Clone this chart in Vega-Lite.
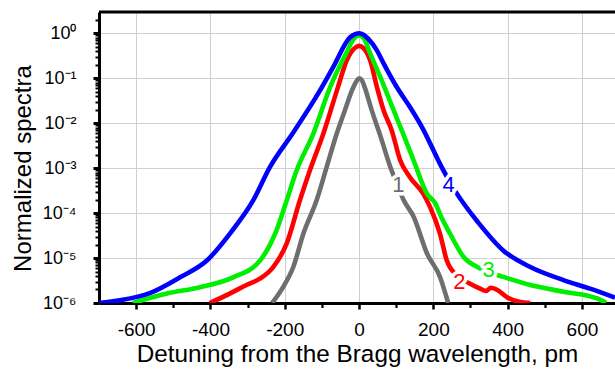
{
  "$schema": "https://vega.github.io/schema/vega-lite/v6.json",
  "width": 516,
  "height": 291,
  "autosize": {"type": "none"},
  "padding": {"left": 99, "top": 12, "right": 0, "bottom": 66},
  "background": "white",
  "config": {"view": {"stroke": null}, "font": "Liberation Sans"},
  "datasets": {
    "curves": [
      {"s":"1","x":-234,"y":1.0e-6},{"s":"1","x":-204,"y":2.29e-6},{"s":"1","x":-177,"y":6.31e-6},{"s":"1","x":-150,"y":3.47e-5},{"s":"1","x":-114,"y":1.95e-4},{"s":"1","x":-87,"y":1.07e-3},{"s":"1","x":-60,"y":5.89e-3},{"s":"1","x":-38,"y":0.0195},{"s":"1","x":-19,"y":0.0537},{"s":"1","x":-6,"y":0.0891},{"s":"1","x":0,"y":0.1},{"s":"1","x":8,"y":0.0891},{"s":"1","x":16,"y":0.0603},{"s":"1","x":34,"y":0.0195},{"s":"1","x":57,"y":5.37e-3},{"s":"1","x":84,"y":1.07e-3},{"s":"1","x":102,"y":4.47e-4},{"s":"1","x":120,"y":1.95e-4},{"s":"1","x":147,"y":8.32e-5},{"s":"1","x":183,"y":1.26e-5},{"s":"1","x":218,"y":3.80e-6},{"s":"1","x":240,"y":1.0e-6},
      {"s":"2","x":-402,"y":1.0e-6},{"s":"2","x":-348,"y":1.62e-6},{"s":"2","x":-303,"y":2.51e-6},{"s":"2","x":-267,"y":3.47e-6},{"s":"2","x":-231,"y":6.31e-6},{"s":"2","x":-195,"y":2.09e-5},{"s":"2","x":-159,"y":1.95e-4},{"s":"2","x":-132,"y":9.12e-4},{"s":"2","x":-96,"y":5.89e-3},{"s":"2","x":-58,"y":0.0589},{"s":"2","x":-33,"y":0.251},{"s":"2","x":-12,"y":0.468},{"s":"2","x":0,"y":0.525},{"s":"2","x":12,"y":0.468},{"s":"2","x":30,"y":0.251},{"s":"2","x":48,"y":0.0646},{"s":"2","x":66,"y":0.0195},{"s":"2","x":88,"y":6.92e-3},{"s":"2","x":111,"y":1.48e-3},{"s":"2","x":137,"y":6.31e-4},{"s":"2","x":173,"y":2.69e-4},{"s":"2","x":191,"y":1.38e-4},{"s":"2","x":218,"y":3.47e-5},{"s":"2","x":236,"y":8.91e-6},{"s":"2","x":265,"y":3.98e-6},{"s":"2","x":299,"y":2.69e-6},{"s":"2","x":326,"y":2.09e-6},{"s":"2","x":342,"y":1.86e-6},{"s":"2","x":355,"y":2.19e-6},{"s":"2","x":370,"y":2.0e-6},{"s":"2","x":398,"y":1.35e-6},{"s":"2","x":434,"y":1.05e-6},{"s":"2","x":461,"y":1.0e-6},
      {"s":"3","x":-609,"y":1.0e-6},{"s":"3","x":-517,"y":1.62e-6},{"s":"3","x":-428,"y":2.24e-6},{"s":"3","x":-339,"y":3.72e-6},{"s":"3","x":-266,"y":8.91e-6},{"s":"3","x":-222,"y":4.17e-5},{"s":"3","x":-198,"y":1.58e-4},{"s":"3","x":-168,"y":8.91e-4},{"s":"3","x":-123,"y":5.89e-3},{"s":"3","x":-78,"y":0.0631},{"s":"3","x":-35,"y":0.355},{"s":"3","x":-12,"y":0.794},{"s":"3","x":0,"y":0.891},{"s":"3","x":12,"y":0.794},{"s":"3","x":30,"y":0.355},{"s":"3","x":57,"y":0.107},{"s":"3","x":93,"y":0.0195},{"s":"3","x":115,"y":6.92e-3},{"s":"3","x":147,"y":1.48e-3},{"s":"3","x":183,"y":2.69e-4},{"s":"3","x":205,"y":1.66e-4},{"s":"3","x":222,"y":7.94e-5},{"s":"3","x":245,"y":3.47e-5},{"s":"3","x":281,"y":1.07e-5},{"s":"3","x":326,"y":5.89e-6},{"s":"3","x":389,"y":3.80e-6},{"s":"3","x":461,"y":2.51e-6},{"s":"3","x":551,"y":1.78e-6},{"s":"3","x":641,"y":1.26e-6},{"s":"3","x":665,"y":1.0e-6},
      {"s":"4","x":-700,"y":1.0e-6},{"s":"4","x":-643,"y":1.15e-6},{"s":"4","x":-563,"y":1.66e-6},{"s":"4","x":-482,"y":3.72e-6},{"s":"4","x":-409,"y":8.91e-6},{"s":"4","x":-347,"y":3.55e-5},{"s":"4","x":-285,"y":1.91e-4},{"s":"4","x":-240,"y":1.05e-3},{"s":"4","x":-178,"y":6.03e-3},{"s":"4","x":-105,"y":0.0537},{"s":"4","x":-70,"y":0.174},{"s":"4","x":-24,"y":0.813},{"s":"4","x":-10,"y":0.955},{"s":"4","x":0,"y":1.0},{"s":"4","x":12,"y":0.933},{"s":"4","x":25,"y":0.75},{"s":"4","x":48,"y":0.417},{"s":"4","x":66,"y":0.214},{"s":"4","x":101,"y":0.0646},{"s":"4","x":137,"y":0.0229},{"s":"4","x":169,"y":8.32e-3},{"s":"4","x":222,"y":1.07e-3},{"s":"4","x":263,"y":2.75e-4},{"s":"4","x":320,"y":6.31e-5},{"s":"4","x":388,"y":1.48e-5},{"s":"4","x":461,"y":6.31e-6},{"s":"4","x":550,"y":3.24e-6},{"s":"4","x":622,"y":2.09e-6},{"s":"4","x":689,"y":1.32e-6}
    ],
    "labels": [
      {"s":"1","x":106,"y":4.2e-4},
      {"s":"4","x":241,"y":4.2e-4},
      {"s":"2","x":270,"y":2.95e-6},
      {"s":"3","x":349,"y":5.4e-6}
    ]
  },
  "layer": [
    {
      "data": {"name": "curves"},
      "mark": {"type": "line", "strokeWidth": 4.6, "clip": true, "strokeJoin": "round", "interpolate": "monotone"},
      "encoding": {
        "x": {
          "field": "x", "type": "quantitative",
          "scale": {"domain": [-700, 689], "nice": false, "zero": false},
          "axis": {
            "orient": "bottom",
            "values": [-600, -500, -400, -300, -200, -100, 0, 100, 200, 300, 400, 500, 600],
            "labelExpr": "datum.value % 200 == 0 ? (datum.value < 0 ? '-' : '') + abs(datum.value) : ''",
            "grid": true, "gridColor": "#cfcfcf", "gridWidth": 1,
            "gridOpacity": {"condition": {"test": "datum.value % 200 == 0", "value": 1}, "value": 0},
            "domainColor": "black", "domainWidth": 3,
            "tickColor": "black",
            "tickWidth": {"condition": {"test": "datum.value % 200 == 0", "value": 2.5}, "value": 2.2},
            "tickSize": {"condition": {"test": "datum.value % 200 == 0", "value": 6}, "value": 4.5},
            "labelFontSize": 19, "labelColor": "black", "labelPadding": 11,
            "labelFlush": false, "labelOverlap": false,
            "title": "Detuning from the Bragg wavelength, pm",
            "titleFontSize": 24.3, "titleFontWeight": "normal", "titleColor": "black", "titlePadding": 3
          }
        },
        "y": {
          "field": "y", "type": "quantitative",
          "scale": {"type": "log", "domain": [1e-6, 2.98], "nice": false},
          "axis": {
            "orient": "left",
            "values": [1e-6,2e-6,3e-6,4e-6,5e-6,6e-6,7e-6,8e-6,9e-6,1e-5,2e-5,3e-5,4e-5,5e-5,6e-5,7e-5,8e-5,9e-5,1e-4,2e-4,3e-4,4e-4,5e-4,6e-4,7e-4,8e-4,9e-4,1e-3,2e-3,3e-3,4e-3,5e-3,6e-3,7e-3,8e-3,9e-3,0.01,0.02,0.03,0.04,0.05,0.06,0.07,0.08,0.09,0.1,0.2,0.3,0.4,0.5,0.6,0.7,0.8,0.9,1,2],
            "labelExpr": "abs(log(datum.value)/LN10 - round(log(datum.value)/LN10)) < 0.001 ? ['10⁰','10⁻¹','10⁻²','10⁻³','10⁻⁴','10⁻⁵','10⁻⁶'][-round(log(datum.value)/LN10)] : ''",
            "grid": true, "gridColor": "#cfcfcf", "gridWidth": 1,
            "gridOpacity": {"condition": {"test": "abs(log(datum.value)/LN10 - round(log(datum.value)/LN10)) < 0.001 && datum.value < 1.5", "value": 1}, "value": 0},
            "domainColor": "black", "domainWidth": 3,
            "tickColor": "black",
            "tickWidth": {"condition": {"test": "abs(log(datum.value)/LN10 - round(log(datum.value)/LN10)) < 0.001", "value": 3}, "value": 2},
            "tickSize": {"condition": {"test": "abs(log(datum.value)/LN10 - round(log(datum.value)/LN10)) < 0.001", "value": 6}, "value": 4},
            "labelFontSize": 18, "labelColor": "black", "labelPadding": 17,
            "labelFlush": false, "labelOverlap": false,
            "title": "Normalized spectra",
            "titleFontSize": 24, "titleFontWeight": "normal", "titleColor": "black", "titlePadding": 7,
            "titleY": 156
          }
        },
        "color": {
          "field": "s", "type": "nominal",
          "scale": {"domain": ["1", "2", "3", "4"], "range": ["#6e6e6e", "#ff0000", "#00ee00", "#0000ff"]},
          "legend": null
        }
      }
    },
    {
      "data": {"values": [{}]},
      "mark": {"type": "rule", "color": "black", "strokeWidth": 3},
      "encoding": {"y": {"datum": 2.98, "type": "quantitative"}}
    },
    {
      "data": {"name": "labels"},
      "mark": {"type": "text", "fontSize": 22, "fill": "white", "stroke": "white", "strokeWidth": 7, "strokeJoin": "round", "align": "center", "baseline": "middle"},
      "encoding": {
        "x": {"field": "x", "type": "quantitative"},
        "y": {"field": "y", "type": "quantitative"},
        "text": {"field": "s", "type": "nominal"}
      }
    },
    {
      "data": {"name": "labels"},
      "mark": {"type": "text", "fontSize": 22, "align": "center", "baseline": "middle"},
      "encoding": {
        "x": {"field": "x", "type": "quantitative"},
        "y": {"field": "y", "type": "quantitative"},
        "text": {"field": "s", "type": "nominal"},
        "color": {"field": "s", "type": "nominal", "legend": null}
      }
    }
  ]
}
